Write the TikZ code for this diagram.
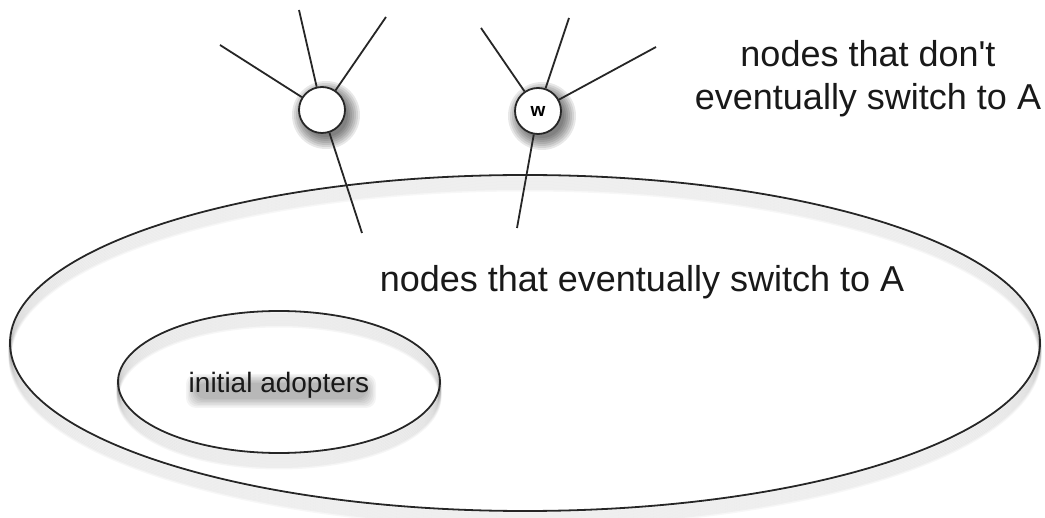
\documentclass[tikz,border=0pt]{standalone}
\usepackage{fontspec}
\setmainfont{Liberation Sans}
% straight apostrophe, taken as a glyph so that no quote mapping applies
\newcommand{\straightquote}{\XeTeXglyph\XeTeXcharglyph"0027\relax}
\begin{document}
\begin{tikzpicture}[x=1pt,y=-1pt,
  outline/.style={draw=black!85,line width=1.8pt},
  edge/.style={draw=black!85,line width=1.8pt},
  vertex/.style={circle,outline,fill=white,minimum size=46pt,inner sep=0pt},
  bigtext/.style={font=\fontsize{36}{43}\selectfont,align=center,text=black!90},
  smalltext/.style={font=\fontsize{28}{32}\selectfont,text=black!90}]
\useasboundingbox (0,0) rectangle (1045,518);
\fill[white] (0,0) rectangle (1045,518);

% soft shadows under the two region outlines
\foreach \d in {1.5,3,...,15}{
  \draw[black,opacity=0.03,line width=3pt] (525,343+\d) ellipse [x radius=515,y radius=168];
  \draw[black,opacity=0.035,line width=3pt] (279,382+\d) ellipse [x radius=161,y radius=71];
}
% regions
\draw[outline] (525,343) ellipse [x radius=515,y radius=168];
\draw[outline] (279,382) ellipse [x radius=161,y radius=71];

% soft shadow behind the inner label
\foreach \i in {0,1.5,...,9}{
  \fill[black,opacity=0.045,rounded corners=10pt]
    (281-86-\i,391-8-\i) rectangle (281+86+\i,391+8+\i);
}

% labels of the regions
\node[bigtext] (inside) at (642,282) {nodes that eventually switch to A};
\node[bigtext] (outside) at (868,79) {nodes that don\straightquote t\\eventually switch to A};
\node[smalltext] (init) at (279,385) {initial adopters};

% blurred shadows of the two vertices
\foreach \r in {34,32,...,22}{
  \fill[black,opacity=0.09] (326,115) circle (\r);
  \fill[black,opacity=0.09] (542,116) circle (\r);
}

% vertices
\node[vertex] (u) at (322,110) {};
\node[vertex,font=\bfseries\fontsize{19}{19}\selectfont] (w) at (538,111) {w};

% loose ends of the edges
\coordinate (u1) at (220,45);
\coordinate (u2) at (299,10);
\coordinate (u3) at (386,17);
\coordinate (u4) at (362,233);
\coordinate (w1) at (481,28);
\coordinate (w2) at (569,18);
\coordinate (w3) at (656,47);
\coordinate (w4) at (517,228);

\foreach \t in {u1,u2,u3,u4}{ \draw[edge] (u) -- (\t); }
\foreach \t in {w1,w2,w3,w4}{ \draw[edge] (w) -- (\t); }
\end{tikzpicture}
\end{document}
